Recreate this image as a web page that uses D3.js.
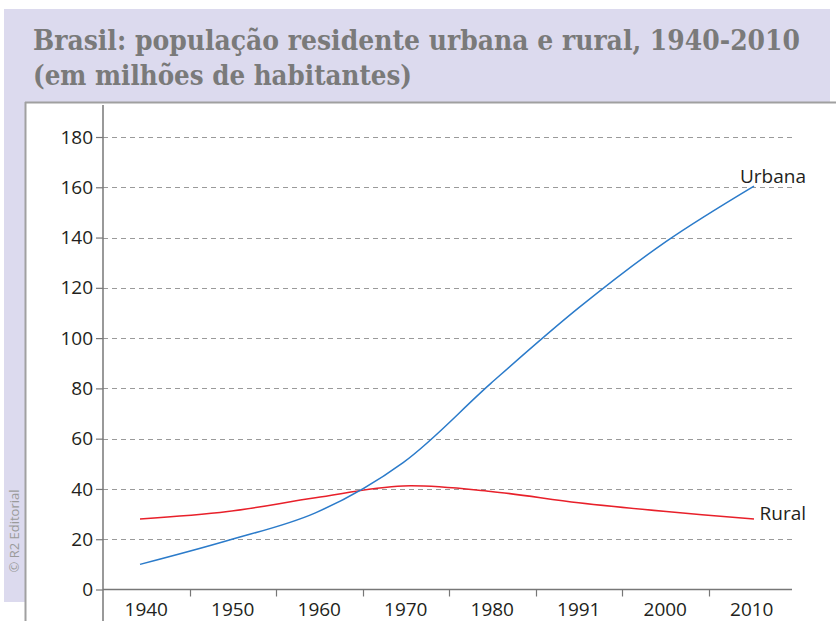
<!DOCTYPE html>
<html><head><meta charset="utf-8">
<script src="https://cdn.jsdelivr.net/npm/d3@7"></script>
<style>html,body{margin:0;padding:0;background:#fff;}svg{display:block;}</style>
</head><body>
<script>
const years = ["1940","1950","1960","1970","1980","1991","2000","2010"];
const urbana = [10, 19.5, 30.5, 50.5, 82, 112, 138.5, 160.5];
const rural = [28, 31, 36.5, 41.2, 39, 34.5, 31, 28];
const yTicks = [0,20,40,60,80,100,120,140,160,180];
const titleLines = ["Brasil: população residente urbana e rural, 1940-2010","(em milhões de habitantes)"];

const W = 836, H = 621;
const svg = d3.select("body").append("svg").attr("width", W).attr("height", H);

// backgrounds
svg.append("rect").attr("x",4).attr("y",9).attr("width",826).attr("height",94).attr("fill","#dcdaee");
svg.append("rect").attr("x",4).attr("y",9).attr("width",22).attr("height",593).attr("fill","#dcdaee");
svg.append("rect").attr("x",26).attr("y",103).attr("width",W-26).attr("height",H-103).attr("fill","#fff");
svg.append("line").attr("x1",25).attr("x2",W).attr("y1",102.5).attr("y2",102.5).attr("stroke","#a0a0a0").attr("stroke-width",2);
svg.append("line").attr("x1",25.5).attr("x2",25.5).attr("y1",102).attr("y2",H).attr("stroke","#a0a0a0").attr("stroke-width",2);

// title
const tw = [767, 379];
titleLines.forEach((t,i)=>{
  svg.append("text").attr("x",33).attr("y",50+i*35)
    .attr("font-family","'DejaVu Serif Condensed','DejaVu Serif',serif")
    .attr("font-weight","bold").attr("font-size",28).attr("fill","#7a7a7a")
    .attr("textLength",tw[i]).attr("lengthAdjust","spacingAndGlyphs")
    .text(t);
});

// credit
svg.append("text").attr("transform","translate(19,531) rotate(-90)")
  .attr("text-anchor","middle").attr("font-family","'Open Sans',sans-serif")
  .attr("font-size",13).attr("fill","#9a9a9a").text("© R2 Editorial");

const x0 = 103, x1 = 795, yBot = 589.5, yTop = 137;
const x = d3.scaleBand().domain(years).range([x0, x1]);
const xp = d3.scalePoint().domain(years).range([140, 754]);
const y = d3.scaleLinear().domain([0,180]).range([yBot, yTop]);

const font = "'Open Sans',sans-serif";

// gridlines
svg.append("g").selectAll("line").data(yTicks.filter(d=>d>0)).join("line")
  .attr("x1",x0).attr("x2",792).attr("y1",d=>Math.round(y(d))+0.5).attr("y2",d=>Math.round(y(d))+0.5)
  .attr("stroke","#9a9a9a").attr("stroke-width",1).attr("stroke-dasharray","5,4");

// y axis
const yAxis = svg.append("g").attr("transform",`translate(${x0},0)`)
  .call(d3.axisLeft(y).tickValues(yTicks).tickSize(7).tickPadding(3).tickFormat(d3.format("d")));
yAxis.select(".domain").remove();
yAxis.selectAll(".tick line").attr("stroke","#777").attr("stroke-width",1.2);
yAxis.selectAll(".tick text").attr("font-family",font).attr("font-size",19).attr("fill","#231f20");
svg.append("line").attr("x1",x0).attr("x2",x0).attr("y1",105).attr("y2",H).attr("stroke","#777").attr("stroke-width",1.5);

// x axis
const xAxis = svg.append("g").attr("transform",`translate(0,${yBot})`)
  .call(d3.axisBottom(x).tickSize(0).tickPadding(13));
xAxis.select(".domain").remove();
xAxis.selectAll(".tick text").attr("font-family",font).attr("font-size",19).attr("fill","#231f20");
svg.append("line").attr("x1",x0).attr("x2",792).attr("y1",yBot).attr("y2",yBot).attr("stroke","#777").attr("stroke-width",1.5);
svg.append("g").selectAll("line").data(years.slice(1)).join("line")
  .attr("x1",d=>Math.round(x(d))+0.5).attr("x2",d=>Math.round(x(d))+0.5)
  .attr("y1",yBot).attr("y2",yBot+7).attr("stroke","#777").attr("stroke-width",1.2);

// lines
const line = d3.line().x((d,i)=>xp(years[i])).y(d=>y(d)).curve(d3.curveCatmullRom.alpha(0.5));
svg.append("path").datum(rural).attr("d",line).attr("fill","none").attr("stroke","#e8202a").attr("stroke-width",1.5);
svg.append("path").datum(urbana).attr("d",line).attr("fill","none").attr("stroke","#2b7bca").attr("stroke-width",1.5);

// labels
svg.append("text").attr("x",806).attr("y",183).attr("text-anchor","end").attr("font-family",font)
  .attr("font-size",19).attr("fill","#231f20").text("Urbana");
svg.append("text").attr("x",806).attr("y",520).attr("text-anchor","end").attr("font-family",font)
  .attr("font-size",19).attr("fill","#231f20").text("Rural");
</script>
</body></html>
